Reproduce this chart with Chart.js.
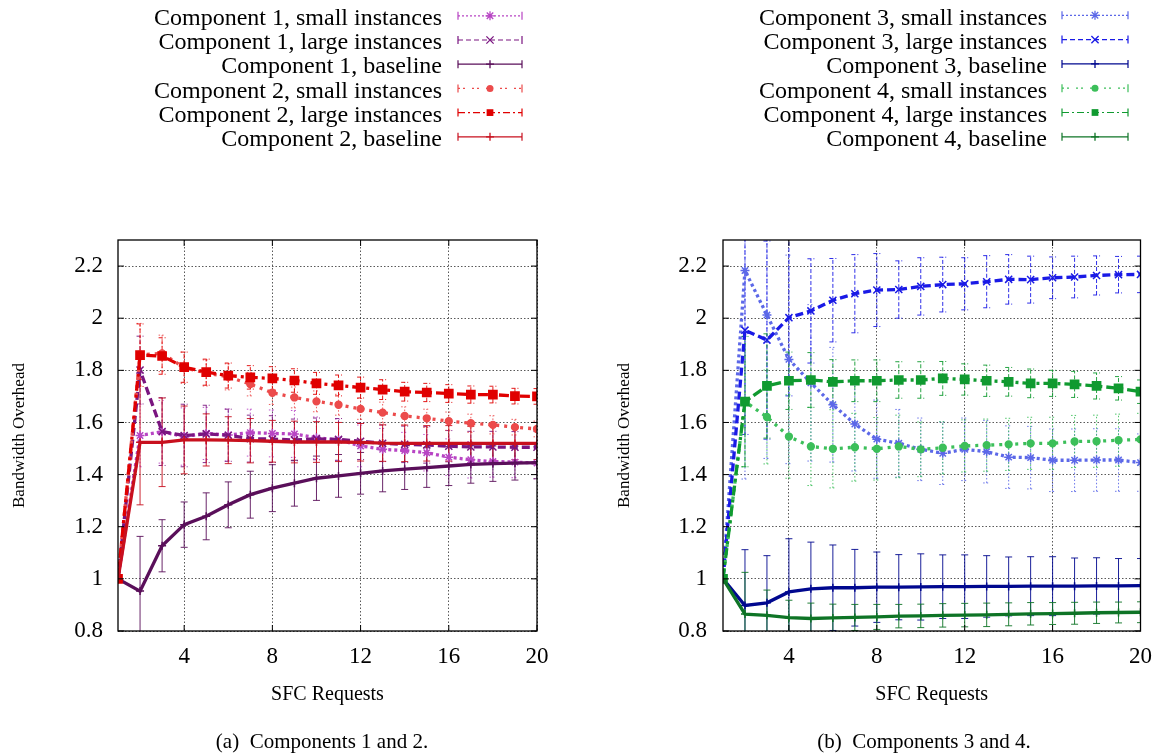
<!DOCTYPE html>
<html>
<head>
<meta charset="utf-8">
<script src="https://cdn.jsdelivr.net/npm/chart.js"></script>
<style>
html,body{margin:0;padding:0;background:#fff;}
#wrap{position:relative;width:1164px;height:756px;overflow:hidden;font-family:'Liberation Serif','Times New Roman',serif;background:#fff;}
canvas{position:absolute;top:0;}
.leg{position:absolute;font-size:24px;line-height:24px;white-space:nowrap;text-align:right;color:#000;}
.cap{position:absolute;font-size:21px;line-height:24px;white-space:nowrap;text-align:center;width:400px;color:#000;}
</style>
</head>
<body>
<div id="wrap">
  <canvas id="cL" width="582" height="756" style="left:0px;width:582px;height:756px"></canvas>
  <canvas id="cR" width="582" height="756" style="left:582px;width:582px;height:756px"></canvas>
  <div id="legL"></div>
  <div id="legR"></div>
  <div class="cap" style="left:122px;top:729px">(a)&nbsp; Components 1 and 2.</div>
  <div class="cap" style="left:724px;top:729px">(b)&nbsp; Components 3 and 4.</div>
</div>
<script>
// ---------------- DATA ----------------
const requests = [1,2,3,4,5,6,7,8,9,10,11,12,13,14,15,16,17,18,19,20];
const xTicks = [4, 8, 12, 16, 20];
const yTicks = [0.8, 1.0, 1.2, 1.4, 1.6, 1.8, 2.0, 2.2];
const xTitle = 'SFC Requests';
const yTitle = 'Bandwidth Overhead';

const labelsLeft = ['Component 1, small instances','Component 1, large instances','Component 1, baseline',
                    'Component 2, small instances','Component 2, large instances','Component 2, baseline'];
const labelsRight = ['Component 3, small instances','Component 3, large instances','Component 3, baseline',
                     'Component 4, small instances','Component 4, large instances','Component 4, baseline'];

const c1Small    = [1.0,1.550,1.564,1.546,1.558,1.552,1.561,1.558,1.556,1.541,1.533,1.510,1.497,1.492,1.484,1.467,1.457,1.450,1.448,1.444];
const c1SmallErr = [0,0.12,0.12,0.11,0.10,0.10,0.09,0.09,0.09,0.08,0.08,0.08,0.08,0.07,0.07,0.07,0.07,0.06,0.06,0.06];
const c1Large    = [1.0,1.801,1.565,1.550,1.556,1.551,1.538,1.536,1.533,1.537,1.535,1.528,1.520,1.516,1.514,1.509,1.506,1.506,1.505,1.505];
const c1LargeErr = [0,0.13,0.13,0.12,0.11,0.10,0.09,0.09,0.08,0.08,0.08,0.07,0.07,0.07,0.07,0.06,0.06,0.06,0.06,0.06];
const c1Base     = [1.0,0.953,1.127,1.208,1.240,1.284,1.323,1.348,1.367,1.386,1.395,1.405,1.414,1.421,1.427,1.433,1.439,1.442,1.444,1.446];
const c1BaseErr  = [0,0.21,0.10,0.087,0.09,0.088,0.09,0.09,0.088,0.085,0.082,0.08,0.08,0.078,0.076,0.075,0.072,0.068,0.065,0.062];

const c2Small    = [1.0,1.860,1.865,1.810,1.790,1.775,1.747,1.714,1.696,1.681,1.668,1.652,1.638,1.625,1.616,1.605,1.597,1.591,1.582,1.575];
const c2SmallErr = [0,0.12,0.07,0.06,0.05,0.05,0.045,0.045,0.04,0.04,0.04,0.04,0.04,0.035,0.035,0.035,0.035,0.035,0.03,0.03];
const c2Large    = [1.0,1.858,1.855,1.812,1.793,1.780,1.773,1.769,1.761,1.750,1.742,1.734,1.726,1.718,1.715,1.711,1.707,1.707,1.701,1.700];
const c2LargeErr = [0,0.12,0.07,0.058,0.05,0.048,0.045,0.045,0.045,0.042,0.04,0.04,0.038,0.036,0.035,0.034,0.033,0.032,0.03,0.03];
const c2Base     = [1.0,1.524,1.524,1.533,1.533,1.532,1.530,1.528,1.525,1.525,1.525,1.524,1.521,1.520,1.520,1.520,1.520,1.520,1.520,1.520];
const c2BaseErr  = [0,0.24,0.17,0.13,0.10,0.09,0.085,0.08,0.08,0.078,0.075,0.072,0.07,0.07,0.068,0.068,0.065,0.065,0.063,0.062];

const c3Small    = [1.0,2.183,2.012,1.842,1.752,1.668,1.594,1.536,1.520,1.497,1.482,1.497,1.488,1.467,1.465,1.455,1.455,1.456,1.456,1.446];
const c3SmallErr = [0,0.80,0.55,0.40,0.30,0.22,0.18,0.15,0.13,0.12,0.12,0.12,0.12,0.12,0.12,0.12,0.12,0.12,0.12,0.11];
const c3Large    = [1.0,1.954,1.916,2.002,2.028,2.069,2.094,2.108,2.110,2.122,2.129,2.132,2.140,2.149,2.148,2.155,2.158,2.164,2.167,2.168];
const c3LargeErr = [0,0.40,0.38,0.30,0.20,0.16,0.15,0.14,0.11,0.11,0.105,0.10,0.10,0.095,0.09,0.08,0.08,0.075,0.07,0.07];
const c3Base     = [1.0,0.898,0.908,0.950,0.962,0.966,0.966,0.968,0.968,0.969,0.970,0.970,0.971,0.971,0.972,0.972,0.972,0.973,0.973,0.974];
const c3BaseErr  = [0,0.214,0.181,0.204,0.179,0.164,0.147,0.135,0.125,0.127,0.122,0.122,0.118,0.113,0.113,0.113,0.108,0.108,0.105,0.104];

const c4Small    = [1.0,1.680,1.621,1.546,1.508,1.499,1.505,1.499,1.508,1.497,1.503,1.510,1.513,1.516,1.520,1.520,1.527,1.528,1.532,1.535];
const c4SmallErr = [0,0.25,0.18,0.16,0.15,0.15,0.13,0.12,0.12,0.105,0.10,0.10,0.10,0.10,0.10,0.10,0.10,0.10,0.10,0.10];
const c4Large    = [1.0,1.680,1.740,1.760,1.763,1.756,1.760,1.760,1.763,1.763,1.769,1.765,1.760,1.756,1.750,1.750,1.746,1.740,1.731,1.718];
const c4LargeErr = [0,0.25,0.20,0.11,0.105,0.085,0.08,0.08,0.07,0.07,0.065,0.06,0.06,0.055,0.055,0.05,0.05,0.05,0.045,0.045];
const c4Base     = [1.0,0.865,0.860,0.851,0.848,0.850,0.852,0.854,0.857,0.858,0.860,0.861,0.862,0.864,0.866,0.867,0.868,0.870,0.871,0.872];
const c4BaseErr  = [0,0.16,0.097,0.067,0.059,0.053,0.05,0.048,0.045,0.045,0.045,0.045,0.045,0.044,0.043,0.042,0.042,0.041,0.04,0.04];

// ---------------- STYLES ----------------
const DOT = [3,3], DOT2 = [3,5], DASH = [8,4], DASHDOT = [10,4,3,4], SOLID = [];
function mk(label, vals, errs, color, dash, pStyle, pRad, errDash, legDash, legR, i) {
  return {
    label: label,
    data: requests.map((x, k) => ({x: x, y: vals[k]})),
    errors: errs,
    borderColor: color, backgroundColor: color,
    borderWidth: 3.3, borderDash: dash, tension: 0, fill: false,
    pointStyle: pStyle, pointRadius: pRad, pointBorderWidth: 1.5,
    pointBackgroundColor: color, pointBorderColor: color, pointHoverRadius: pRad,
    errDash: errDash, legDash: legDash, legR: legR,
    order: 10 - i
  };
}
const leftSets = [
  mk(labelsLeft[0], c1Small, c1SmallErr, '#b845c4', DOT,     'star',     4.5, [1.5,2], [2,2], 4.5, 0),
  mk(labelsLeft[1], c1Large, c1LargeErr, '#7a1580', DASH,    'crossRot', 5,   [4,2],   [5,3], 5, 1),
  mk(labelsLeft[2], c1Base,  c1BaseErr,  '#5a0f5a', SOLID,   'cross',    4,   [],      [],    4, 2),
  mk(labelsLeft[3], c2Small, c2SmallErr, '#ec4b4b', DOT2,    'circle',   3.4, [1.5,2], [2,3,2,7], 3.5, 3),
  mk(labelsLeft[4], c2Large, c2LargeErr, '#e00000', DASHDOT, 'rect',     5.8, [4,2],   [7,3,2,3], 4.5, 4),
  mk(labelsLeft[5], c2Base,  c2BaseErr,  '#c8101e', SOLID,   'cross',    4,   [],      [],    4, 5)
];
const rightSets = [
  mk(labelsRight[0], c3Small, c3SmallErr, '#5c68e8', DOT,     'star',     4.5, [1.5,2], [2,2], 4.5, 0),
  mk(labelsRight[1], c3Large, c3LargeErr, '#1a1ae6', DASH,    'crossRot', 5,   [4,2],   [5,3], 5, 1),
  mk(labelsRight[2], c3Base,  c3BaseErr,  '#00088f', SOLID,   'cross',    4,   [],      [],    4, 2),
  mk(labelsRight[3], c4Small, c4SmallErr, '#3cbf5a', DOT2,    'circle',   3.4, [1.5,2], [2,3,2,7], 3.5, 3),
  mk(labelsRight[4], c4Large, c4LargeErr, '#109a30', DASHDOT, 'rect',     5.8, [4,2],   [7,3,2,3], 4.5, 4),
  mk(labelsRight[5], c4Base,  c4BaseErr,  '#0e7426', SOLID,   'cross',    4,   [],      [],    4, 5)
];

// ---------------- PLUGINS ----------------
function marker(ctx, style, x, y, r, color) {
  ctx.save();
  ctx.setLineDash([]);
  ctx.strokeStyle = color; ctx.fillStyle = color; ctx.lineWidth = 1.3;
  ctx.beginPath();
  const d = r * 0.72;
  if (style === 'rect') { ctx.fillRect(x - r*0.75, y - r*0.75, r*1.5, r*1.5); }
  else if (style === 'circle') { ctx.arc(x, y, r, 0, Math.PI*2); ctx.fill(); }
  else if (style === 'crossRot') { ctx.moveTo(x-d,y-d); ctx.lineTo(x+d,y+d); ctx.moveTo(x-d,y+d); ctx.lineTo(x+d,y-d); ctx.stroke(); }
  else if (style === 'star') { ctx.moveTo(x-d,y-d); ctx.lineTo(x+d,y+d); ctx.moveTo(x-d,y+d); ctx.lineTo(x+d,y-d); ctx.moveTo(x,y-r); ctx.lineTo(x,y+r); ctx.moveTo(x-r,y); ctx.lineTo(x+r,y); ctx.stroke(); }
  else if (style === 'cross') { ctx.moveTo(x,y-r); ctx.lineTo(x,y+r); ctx.moveTo(x-r,y); ctx.lineTo(x+r,y); ctx.stroke(); }
  ctx.restore();
}

const errorBars = {
  id: 'errorBars',
  beforeDatasetsDraw(chart) {
    const {ctx, chartArea: a} = chart;
    const xs = chart.scales.x, ys = chart.scales.y;
    ctx.save();
    ctx.beginPath(); ctx.rect(a.left, a.top, a.right - a.left, a.bottom - a.top); ctx.clip();
    chart.data.datasets.forEach(d => {
      ctx.strokeStyle = d.borderColor; ctx.globalAlpha = 0.9;
      ctx.lineWidth = 1; ctx.setLineDash(d.errDash);
      d.data.forEach((p, k) => {
        const e = d.errors[k]; if (!e) return;
        const px = xs.getPixelForValue(p.x);
        const y1 = ys.getPixelForValue(p.y - e), y2 = ys.getPixelForValue(p.y + e);
        ctx.beginPath();
        ctx.moveTo(px, y1); ctx.lineTo(px, y2);
        ctx.moveTo(px - 3.5, y1); ctx.lineTo(px + 3.5, y1);
        ctx.moveTo(px - 3.5, y2); ctx.lineTo(px + 3.5, y2);
        ctx.stroke();
      });
    });
    ctx.restore();
  }
};

const frame = {
  id: 'frame',
  afterDraw(chart) {
    const {ctx, chartArea: a} = chart;
    const xs = chart.scales.x, ys = chart.scales.y;
    ctx.save();
    ctx.setLineDash([]);
    ctx.strokeStyle = '#000'; ctx.lineWidth = 1.3;
    ctx.strokeRect(a.left, a.top, a.right - a.left, a.bottom - a.top);
    ctx.lineWidth = 1;
    ctx.beginPath();
    xTicks.forEach(v => { const px = xs.getPixelForValue(v);
      ctx.moveTo(px, a.bottom); ctx.lineTo(px, a.bottom - 6);
      ctx.moveTo(px, a.top); ctx.lineTo(px, a.top + 6); });
    yTicks.forEach(v => { const py = ys.getPixelForValue(v);
      ctx.moveTo(a.left, py); ctx.lineTo(a.left + 6, py);
      ctx.moveTo(a.right, py); ctx.lineTo(a.right - 6, py); });
    ctx.stroke();
    ctx.restore();
  }
};

const legendSamples = {
  id: 'legendSamples',
  afterDraw(chart, args, opts) {
    const ctx = chart.ctx;
    chart.data.datasets.forEach((d, i) => {
      const y = opts.y0 + opts.dy * i;
      ctx.save();
      ctx.strokeStyle = d.borderColor; ctx.lineWidth = 1.2;
      ctx.setLineDash(d.legDash);
      ctx.beginPath(); ctx.moveTo(opts.x1, y); ctx.lineTo(opts.x2, y); ctx.stroke();
      ctx.setLineDash([]);
      ctx.beginPath();
      ctx.moveTo(opts.x1, y - 4); ctx.lineTo(opts.x1, y + 4);
      ctx.moveTo(opts.x2, y - 4); ctx.lineTo(opts.x2, y + 4);
      ctx.stroke();
      ctx.restore();
      marker(ctx, d.pointStyle, (opts.x1 + opts.x2) / 2, y, d.legR, d.borderColor);
    });
  }
};

// ---------------- CHARTS ----------------
Chart.defaults.font.family = "'Liberation Serif', 'Times New Roman', serif";
Chart.defaults.color = '#000';

function makeChart(id, sets, yWidth, tickPad, titlePad, padRight, leg) {
  return new Chart(document.getElementById(id), {
    type: 'line',
    data: { datasets: sets },
    plugins: [errorBars, frame, legendSamples],
    options: {
      responsive: false, animation: false, events: [],
      layout: { padding: { left: 0, top: 240, right: padRight, bottom: 0 } },
      plugins: { legend: { display: false }, tooltip: { enabled: false }, legendSamples: leg },
      scales: {
        x: {
          type: 'linear', min: requests[0], max: requests[requests.length - 1],
          afterBuildTicks: s => { s.ticks = xTicks.map(v => ({ value: v })); },
          afterFit: s => { s.height = 125; },
          ticks: { font: { size: 23 }, padding: 12, color: '#000', callback: v => String(v) },
          grid: { drawTicks: false, color: 'rgba(0,0,0,0.65)', lineWidth: 1 },
          border: { display: false, dash: [1.5, 2] },
          title: { display: true, text: xTitle, font: { size: 20 }, color: '#000', padding: { top: 0, bottom: 49 } }
        },
        y: {
          type: 'linear', min: 0.8, max: 2.3,
          afterBuildTicks: s => { s.ticks = yTicks.map(v => ({ value: v })); },
          afterFit: s => { s.width = yWidth; },
          ticks: { font: { size: 23 }, padding: tickPad, color: '#000', callback: v => String(Math.round(v * 10) / 10) },
          grid: { drawTicks: false, color: 'rgba(0,0,0,0.65)', lineWidth: 1 },
          border: { display: false, dash: [1.5, 2] },
          title: { display: true, text: yTitle, font: { size: 17 }, color: '#000', padding: { top: titlePad, bottom: 0 } }
        }
      }
    }
  });
}

makeChart('cL', leftSets, 118, 15, 9.8, 45, { x1: 458, x2: 522, y0: 15.8, dy: 24.2 });
makeChart('cR', rightSets, 141, 16, 32.8, 22, { x1: 480, x2: 546, y0: 15.3, dy: 24.3 });

// legend labels as HTML text
function legendText(id, labels, rightPx) {
  const el = document.getElementById(id);
  labels.forEach((t, i) => {
    const d = document.createElement('div');
    d.className = 'leg';
    d.style.right = rightPx + 'px';
    d.style.top = (4.9 + 24.2 * i) + 'px';
    d.textContent = t;
    el.appendChild(d);
  });
}
legendText('legL', labelsLeft, 1164 - 442);
legendText('legR', labelsRight, 1164 - 1047);
</script>
</body>
</html>
